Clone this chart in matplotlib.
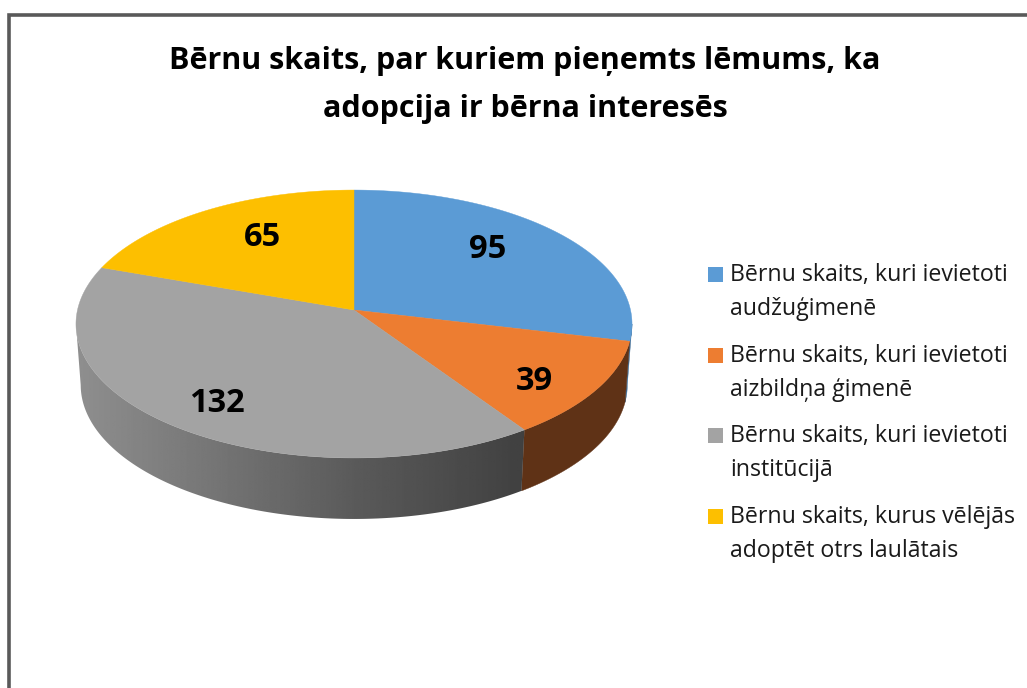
import numpy as np
import matplotlib.pyplot as plt
from matplotlib.patches import Polygon, Rectangle

plt.rcParams['font.family'] = ['Open Sans', 'DejaVu Sans']

title = "Bērnu skaits, par kuriem pieņemts lēmums, ka\nadopcija ir bērna interesēs"
values = [95, 39, 132, 65]
labels = ["Bērnu skaits, kuri ievietoti\naudžuģimenē",
          "Bērnu skaits, kuri ievietoti\naizbildņa ģimenē",
          "Bērnu skaits, kuri ievietoti\ninstitūcijā",
          "Bērnu skaits, kurus vēlējās\nadoptēt otrs laulātais"]
colors = ['#5b9bd5', '#ed7d31', '#a3a3a3', '#fdbf00']
wall_colors = ['#3c6a94', '#5f3216', None, None]

# pie geometry in pixels, perspective comes from k
cx, cy = 354, 310
b, a, k = 276.5, 132.5, 0.1045
depth = 61
shrink = 0.983


def rim(t):
    # t in degrees, clockwise from the top
    s, c = np.sin(np.radians(t)), np.cos(np.radians(t))
    d = 1 + k * c
    return b * s / d, -a * c / d


fig = plt.figure(figsize=(10.27, 6.88), dpi=100)
ax = fig.add_axes([0, 0, 1, 1])
ax.set_xlim(0, 1027)
ax.set_ylim(688, 0)
ax.axis('off')

# frame, open on the right and bottom
ax.plot([9, 9, 1027], [688, 14.5, 14.5], color='#595959', lw=2.6, solid_joinstyle='miter')

edges = np.concatenate([[0], np.cumsum(values)]) / sum(values) * 360
vis_lo, vis_hi = np.degrees(np.arccos(-k)), 360 - np.degrees(np.arccos(-k))

# side walls
for i in range(len(values)):
    lo, hi = max(edges[i], vis_lo), min(edges[i + 1], vis_hi)
    if hi <= lo:
        continue
    t = np.linspace(lo, hi, 200)
    x, y = rim(t)
    top = np.column_stack([cx + x, cy + y])
    bot = np.column_stack([cx + x * shrink, cy + y + depth])[::-1]
    pts = np.vstack([top, bot])
    if wall_colors[i]:
        ax.add_patch(Polygon(pts, fc=wall_colors[i], ec=wall_colors[i], lw=0.3))
    else:
        grad = np.interp(np.linspace(76, 530, 300), [76, 200, 360, 530], [0.56, 0.47, 0.35, 0.25])
        im = ax.imshow(grad[None, :], extent=(76, 530, 530, 300), cmap='gray', vmin=0, vmax=1,
                       aspect='auto', zorder=2)
        im.set_clip_path(Polygon(pts, transform=ax.transData))

# top faces
for i in range(len(values)):
    t = np.linspace(edges[i], edges[i + 1], 200)
    x, y = rim(t)
    pts = np.vstack([[cx, cy], np.column_stack([cx + x, cy + y])])
    ax.add_patch(Polygon(pts, fc=colors[i], ec=colors[i], lw=0.3, zorder=3))

ax.set_xlim(0, 1027)
ax.set_ylim(688, 0)

ax.text(525, 85, title, ha='center', va='center', fontsize=22, fontweight='bold',
        color='black', linespacing=1.75, zorder=5)

# data labels
label_pos = [(488, 250), (534, 382), (217, 404), (262, 237)]
for v, (lx, ly) in zip(values, label_pos):
    ax.text(lx, ly, str(v), ha='center', va='center', fontsize=23.5, fontweight='bold', zorder=5)

# legend
legend_y = [274, 355, 435, 516]
for lab, col, ly in zip(labels, colors, legend_y):
    ax.add_patch(Rectangle((708, ly - 7.5), 15, 15, fc=col, ec='none'))
    ax.text(730, ly + 18, lab, ha='left', va='center', fontsize=16.7, color='#1a1a1a', linespacing=1.53)

fig.savefig('out.png', dpi=100)
